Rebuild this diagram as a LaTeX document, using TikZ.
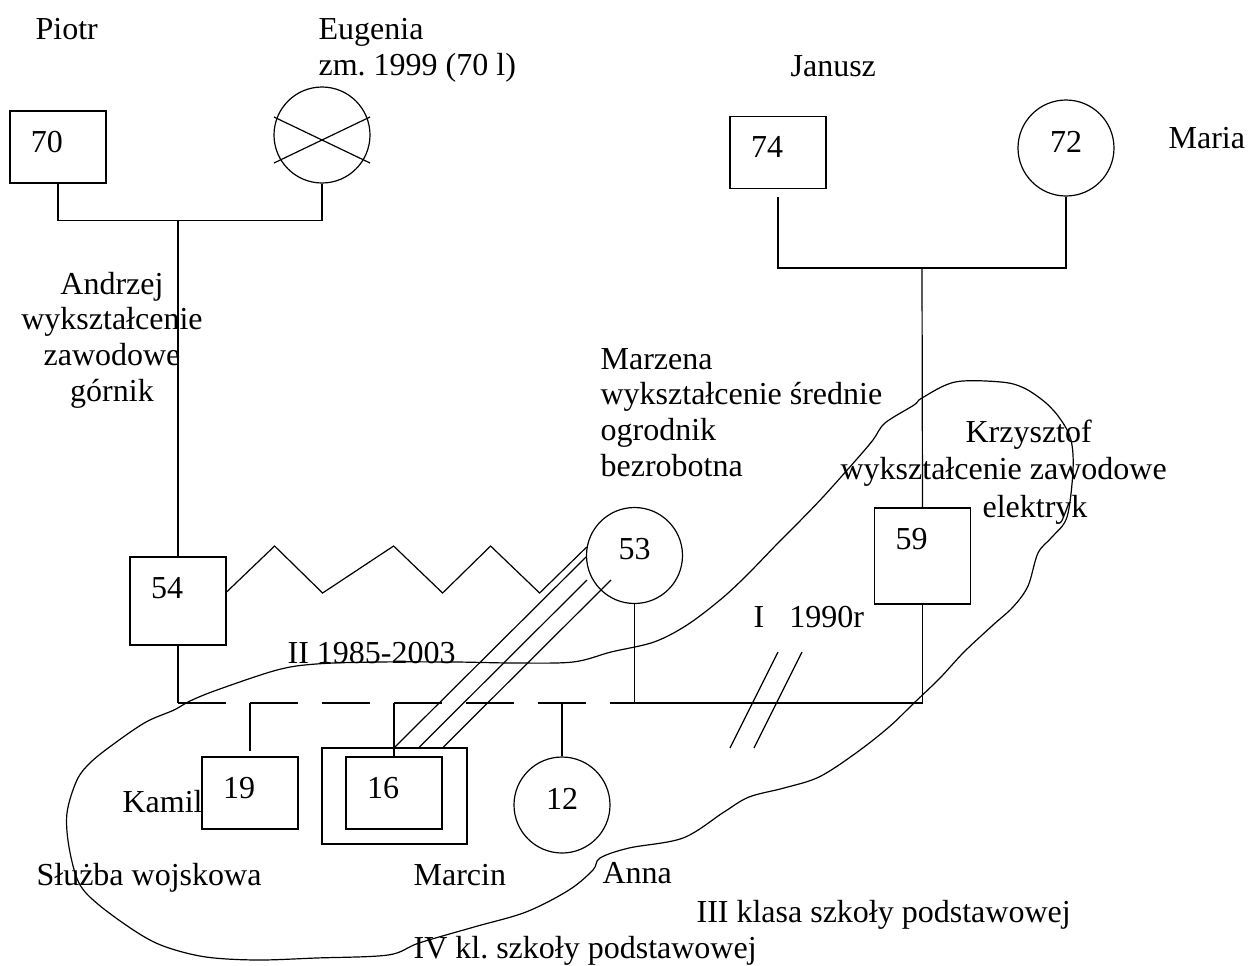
\documentclass[tikz,border=0pt]{standalone}
\usepackage{fontspec}
\setmainfont{Liberation Serif}
\frenchspacing
\usetikzlibrary{positioning}

\begin{document}
\begin{tikzpicture}[
  x=0.5pt,y=-0.5pt,
  line width=0.6pt,
  every node/.style={font=\fontsize{16}{17.8}\selectfont,inner sep=0pt},
  box/.style={draw,align=left,text width=27pt,inner xsep=10.5pt,inner ysep=0pt,
              text height=20.5pt,text depth=#1},
  box/.default=15.5pt,
  fem/.style={draw,circle,minimum size=48pt,text height=10.8pt,text depth=6.8pt},
  txt/.style={anchor=base west,align=left},
  dsh/.style={dash pattern=on 24pt off 12pt},
]
\useasboundingbox (0,0) rectangle (1248,965);

% grandparents
\node[box] (b70) at (58,147) {70};
\node[fem] (eug) at (322,135) {};
\draw ([shift={(-48,-18)}]eug.center) -- ([shift={(48,28)}]eug.center);
\draw ([shift={(-48,28)}]eug.center) -- ([shift={(48,-18)}]eug.center);
\node[box] (b74) at (778,152.5) {74};
\node[fem] (c72) at (1066,148) {72};

\node[txt] (piotr) at (35,39) {Piotr};
\node[txt] (eugenia) at (318,75) {Eugenia\\zm. 1999 (70 l)};
\node[txt] (janusz) at (790,76) {Janusz};
\node[txt] (maria) at (1168,148) {Maria};

% parents
\node[box=23.5pt] (b54) at (178,601) {54};
\node[fem] (c53) at (634.5,555.5) {53};
\node[box=27.5pt] (b59) at (922.5,556) {59};

\node[align=center,anchor=base] (andrzej) at (112,401) {Andrzej\\wykształcenie\\zawodowe\\górnik};
\node[txt] (marzena) at (600,476) {Marzena\\wykształcenie średnie\\ogrodnik\\bezrobotna};
\node[txt] (krz1) at (965,442) {Krzysztof};
\node[txt] (krz2) at (840,479) {wykształcenie zawodowe};
\node[txt] (krz3) at (982,517) {elektryk};
\node[txt] (zw2) at (287,663) {II 1985-2003};
\node[txt] (zw1) at (753,627) {I\hspace{12.5pt}1990r};

% children
\node[box] (b19) at (250,793) {19};
\node[draw,minimum width=72.5pt,minimum height=48pt] (bm) at (394.5,796) {};
\node[box] (b16) at (394,793) {16};
\node[fem] (c12) at (562,805) {12};

\node[txt] (kamil) at (122,812) {Kamil};
\node[txt] (sluzba) at (36,885) {Służba wojskowa};
\node[txt] (marcin) at (413,885) {Marcin};
\node[txt] (anna) at (602,883) {Anna};
\node[txt] (szk3) at (696,922) {III klasa szkoły podstawowej};
\node[txt] (szk4) at (413,958) {IV kl. szkoły podstawowej};

% lines of descent
\coordinate (pp) at (178,220);
\coordinate (jm) at (922,268);
\coordinate (s0) at (178,703);
\coordinate (s1) at (610,703);
\draw (b70.south) -- ++(0,37) -| (eug.south);
\draw (pp) -- (b54.north);
\draw ([yshift=-4pt]b74.south) -- (b74.south |- jm) -| (c72.south);
\draw (jm) -- (b59.north);
\draw (b54.south) -- (s0);
\draw[dsh] (s0) -- (s1);
\draw (s1) -| (b59.south);
\draw (c53.south) -- (c53.south |- s1);
\draw (b19.north |- s0) -- ([yshift=2.5pt]b19.north);
\draw (b16.north |- s0) -- (b16.north);
\draw (c12.north |- s0) -- (c12.north);

% conflict and close ties
\draw ([yshift=4.5pt]b54.east) -- ++(48,-46) -- ++(48,47) -- ++(71,-47)
  -- ++(49,47) -- ++(48,-47) -- ++(49,47) -- (c53.170);
\draw ([shift={(-48.5,1.5)}]c53.center) -- (bm.north);
\draw ([shift={(-47.5,24.5)}]c53.center) -- ([xshift=12.25pt]bm.north);
\draw ([shift={(-23.5,24.5)}]c53.center) -- ([xshift=24.25pt]bm.north);

% divorce
\draw (778,652) -- (730,748);
\draw (802,652) -- (754,748);

% household
\draw plot[smooth cycle,tension=0.55] coordinates {
  (922,398) (955,382) (1001,382) (1024,388) (1046,403) (1061,420) (1071,440)
  (1073,470) (1067,517) (1052,537) (1038,553) (1028,586) (1013,607) (993,625)
  (964,652) (940,678) (914,703) (889,727) (856,753) (819,777) (784,788)
  (749,797) (724,812) (683,838) (629,848) (600,858) (593,870) (569,890)
  (526,912) (474,927) (419,943) (388,955) (316,958) (257,960) (206,957)
  (166,947) (138,933) (99,905) (79,883) (69,847) (67,813) (77,780) (91,762)
  (115,743) (146,722) (174,710) (190,701) (217,690) (277,670) (316,664)
  (376,662) (455,662) (514,663) (573,662) (611,652) (654,642) (687,625)
  (720,600) (745,577) (778,543) (794,527) (823,497) (856,460) (873,440)
  (885,423) (914,405)};
\end{tikzpicture}
\end{document}
